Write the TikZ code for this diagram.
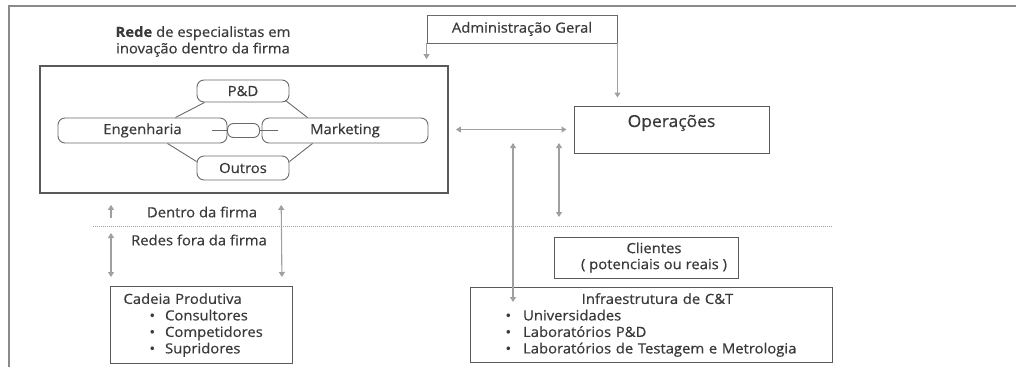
\documentclass[tikz,border=0pt]{standalone}
\usepackage{fontspec}
\setmainfont{Open Sans}[FakeStretch=1.06, FakeBold=0.6]
\usetikzlibrary{arrows.meta}
\definecolor{txt}{HTML}{3A3A3A}
\definecolor{framegray}{HTML}{8A8A8A}
\definecolor{boxgray}{HTML}{5A5A5A}
\definecolor{pillgray}{HTML}{6A6A6A}
\definecolor{arrgray}{HTML}{A0A0A0}
\begin{document}
\begin{tikzpicture}[x=1pt,y=-1pt,
  every node/.style={text=txt, font=\fontsize{14}{16.5}\selectfont},
  box/.style={draw=boxgray, line width=1pt, inner sep=0pt},
  mainbox/.style={draw=boxgray, line width=1.8pt, inner sep=0pt},
  pill/.style={draw=pillgray, line width=0.9pt, rounded corners=7pt, inner sep=0pt},
  link/.style={draw=pillgray, line width=0.9pt},
  arr/.style={draw=arrgray, line width=1.1pt,
    >={Triangle[width=6pt,length=5pt]}},
  sep/.style={draw=arrgray, line width=1pt, densely dotted}
]
\useasboundingbox (0,0) rectangle (1016,367);

% open frame: left and top edges
\coordinate (fb) at (9,367);
\coordinate (fc) at (9,6);
\coordinate (fr) at (1016,6);
\draw[framegray, line width=2pt] (fb) -- (fc) -- (fr);

% in-house innovation network
\node[align=center] (title) at (203,41.5)
  {\textbf{Rede} de especialistas em\\inovação dentro da firma};
\node[mainbox, minimum width=408pt, minimum height=127pt] (rede) at (244,129.5) {};

\node[pill, minimum width=92pt, minimum height=22pt] (pd) at (243,91) {P\&D};
\node[pill, minimum width=169pt, minimum height=25pt] (eng) at (142.5,130.5) {Engenharia};
\node[pill, minimum width=166pt, minimum height=25pt] (mkt) at (345,130.5) {Marketing};
\node[pill, minimum width=92pt, minimum height=24pt] (out) at (243,168) {Outros};

\draw[link] ([xshift=-15pt]eng.east) -- ([xshift=16pt]mkt.west);
\node[pill, fill=white, rounded corners=6pt, minimum width=32pt, minimum height=14pt] (mid) at (243.5,130.5) {};

\draw[link] ([xshift=8pt]pd.south west) -- ([xshift=-52pt]eng.north east);
\draw[link] ([xshift=-4pt,yshift=2pt]pd.south east) -- ([xshift=46pt]mkt.north west);
\draw[link] ([xshift=-60pt]eng.south east) -- ([yshift=-6pt]out.north west);
\draw[link] ([xshift=51pt]mkt.south west) -- ([yshift=-6pt]out.north east);

% management and operations
\node[box, draw=pillgray, line width=0.9pt, minimum width=190pt, minimum height=28pt] (adm) at (522,29) {Administração Geral};
\node[box, minimum width=195pt, minimum height=47pt, text height=12pt, text depth=17pt,
  font=\fontsize{16.5}{18}\selectfont] (ops) at (671.5,129.5) {Operações};

\draw[arr, ->, shorten >=6pt] (adm.south west) -- (adm.south west |- rede.north);
\draw[arr, ->, shorten >=8pt] (adm.south east) -- (adm.south east |- ops.north);
\draw[arr, <->, shorten <=7pt, shorten >=7pt] (rede.east) -- (ops.west);

% boundary of the firm
\coordinate (sl) at (93,226);
\coordinate (sr) at (833,226);
\draw[sep] (sl) -- (sr);
\node (inside) at (202,212) {Dentro da firma};
\node (outside) at (199,240) {Redes fora da firma};

% outside networks
\node[box, anchor=north west, minimum width=182pt, minimum height=77pt,
  text width=156pt, inner xsep=13pt, align=left] (cadeia) at (110,286)
  {Cadeia Produtiva\\
   \hspace*{26pt}•\hspace{10pt}Consultores\\
   \hspace*{26pt}•\hspace{10pt}Competidores\\
   \hspace*{26pt}•\hspace{10pt}Supridores};

\node[box, minimum width=184pt, minimum height=41pt, align=center,
  font=\fontsize{14}{16}\selectfont] (cli) at (646,257.5)
  {\hspace*{16pt}Clientes\\\hspace*{16pt}( potenciais ou reais )};

\node[box, anchor=north west, minimum width=362pt, minimum height=75pt,
  text width=292pt, inner xsep=35pt, align=left] (infra) at (470,287)
  {\makebox[\hsize][c]{\hspace*{12pt}Infraestrutura de C\&T}\\
   •\hspace{12pt}Universidades\\
   •\hspace{12pt}Laboratórios P\&D\\
   •\hspace{12pt}Laboratórios de Testagem e Metrologia};

% links across the boundary
\coordinate (l1) at (111,218);
\draw[arr, ->, shorten >=11pt] (l1) -- (l1 |- rede.south);
\coordinate (l2) at (111,233);
\draw[arr, <->, shorten >=9pt] (l2) -- (l2 |- cadeia.north);
\draw[arr, <->, shorten <=11pt, shorten >=9pt] ([xshift=242pt]rede.south west) -- ([xshift=172pt]cadeia.north west);

\coordinate (m1) at (513,143);
\coordinate (m1b) at (513,302);
\draw[arr, <->] (m1) -- (m1b);
\coordinate (m2) at (559,143);
\coordinate (m2b) at (559,217);
\draw[arr, <->] (m2) -- (m2b);
\end{tikzpicture}
\end{document}
